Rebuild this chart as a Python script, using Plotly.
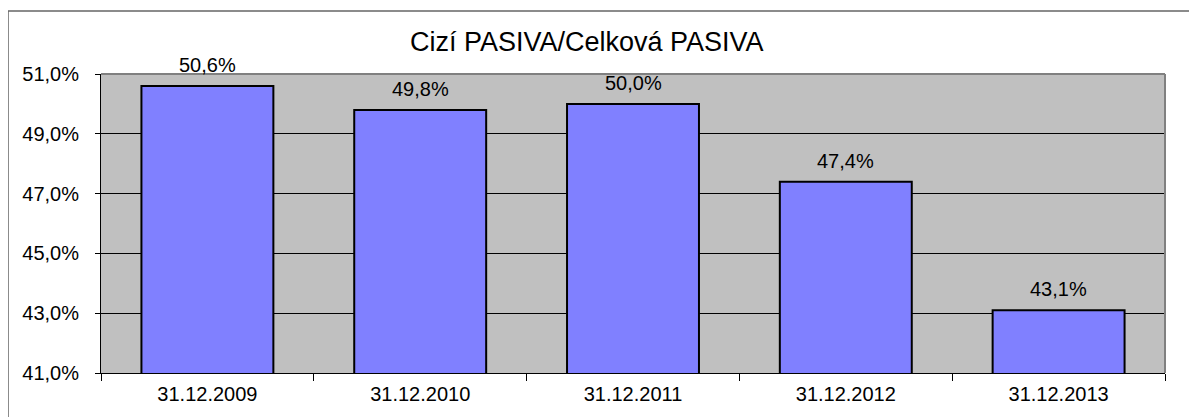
import plotly.graph_objects as go

categories = ["31.12.2009", "31.12.2010", "31.12.2011", "31.12.2012", "31.12.2013"]
values = [50.6, 49.8, 50.0, 47.4, 43.1]
y_ticks = [41, 43, 45, 47, 49, 51]
y_ticktext = [f"{v:.1f}%".replace(".", ",") for v in y_ticks]
value_labels = [f"{v:.1f}%".replace(".", ",") for v in values]
title_text = "Cizí PASIVA/Celková PASIVA"

OFF = 8  # page body margin
W, H = 1189, 409
L, R, T, B = 93, 32, 66, 44
pw, ph = W - L - R, H - T - B

def px_x(px):
    return (px - OFF - L) / pw

def px_y(py):
    return (H - B - (py - OFF)) / ph

fig = go.Figure()
fig.add_trace(go.Bar(
    x=categories,
    y=values,
    marker=dict(color="#8080FF", line=dict(color="#000000", width=2)),
    width=0.62,
    hoverinfo="x+y",
))

annotations = [dict(
    x=c, y=v, text=t, xref="x", yref="y",
    xanchor="center", yanchor="bottom", yshift=8,
    showarrow=False, font=dict(size=20, color="#000000"),
) for c, v, t in zip(categories, values, value_labels)]

annotations.append(dict(
    text=title_text, xref="paper", yref="paper",
    x=px_x(587), y=px_y(42), xanchor="center", yanchor="middle",
    showarrow=False, font=dict(size=27, color="#000000"),
))

fig.update_layout(
    width=W, height=H,
    margin=dict(l=L, r=R, t=T, b=B, pad=0),
    paper_bgcolor="white",
    plot_bgcolor="#C0C0C0",
    font=dict(family="Liberation Sans, Arial", size=20, color="#000000"),
    showlegend=False,
    bargap=0.38,
    xaxis=dict(
        type="category",
        showgrid=False,
        showline=True, linecolor="#000000", linewidth=1,
        ticks="outside", ticklen=7, tickcolor="#000000",
        tickson="boundaries",
        tickfont=dict(size=20),
        ticklabelstandoff=3,
        zeroline=False,
    ),
    yaxis=dict(
        range=[41, 51],
        tickvals=y_ticks,
        ticktext=y_ticktext,
        showgrid=True, gridcolor="#000000", gridwidth=1,
        showline=True, linecolor="#000000", linewidth=1,
        ticks="outside", ticklen=5, tickcolor="#000000",
        tickfont=dict(size=20),
        ticklabelstandoff=12,
        zeroline=False,
    ),
    annotations=annotations,
    shapes=[
        dict(type="rect", xref="paper", yref="paper",
             x0=px_x(8), x1=px_x(1215), y0=px_y(440), y1=px_y(11),
             line=dict(color="#666666", width=1.5), layer="below"),
        dict(type="line", xref="paper", yref="paper",
             x0=0, x1=1, y0=1, y1=1, line=dict(color="#808080", width=2)),
        dict(type="line", xref="paper", yref="paper",
             x0=1, x1=1, y0=0, y1=1, line=dict(color="#808080", width=2)),
    ],
)

fig.write_html("out.html")
